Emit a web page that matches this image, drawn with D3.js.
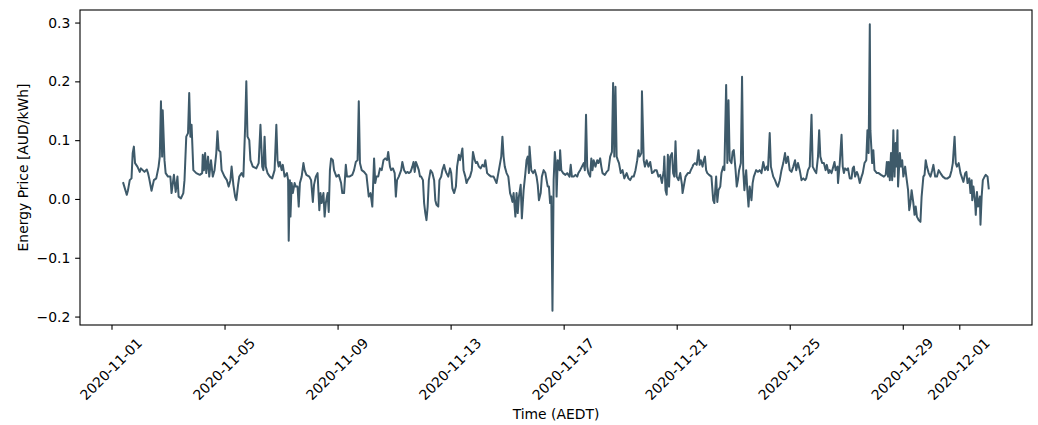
<!DOCTYPE html>
<html>
<head>
<meta charset="utf-8">
<script src="https://cdn.jsdelivr.net/npm/d3@7"></script>
<style>
  body { margin: 0; background: #fff; }
  svg { display: block; font-family: "DejaVu Sans", sans-serif; }
</style>
</head>
<body>
<svg id="chart" width="1038" height="425"></svg>
<script>
// Hours since 2020-11-01 00:00 AEDT, and price in AUD/kWh
const seriesStart = Date.UTC(2020, 10, 1, 0, 0);
const samples = [
[10,0.027],[13,0.007],[14,0.015],[15.5,0.032],[17,0.035],[18,0.078],[19,0.089],[20,0.061],[22,0.055],[24,0.046],[25,0.052],[28,0.046],[30,0.050],[31,0.044],[32,0.035],[34,0.014],[36,0.032],[38,0.035],[40,0.055],[41,0.072],[42,0.166],[43,0.072],[43.5,0.151],[45,0.066],[46,0.044],[48,0.038],[50,0.038],[51,0.010],[53,0.041],[54.5,0.012],[56,0.038],[57,0.004],[59,0.001],[61,0.010],[62,0.032],[63.5,0.106],[65,0.112],[66,0.180],[67,0.106],[68,0.126],[69.5,0.049],[72,0.044],[75,0.041],[77,0.044],[77.5,0.075],[78.5,0.049],[79.5,0.078],[80.5,0.044],[82,0.072],[83,0.038],[84.5,0.066],[86,0.038],[87.5,0.049],[89,0.078],[90,0.115],[91,0.083],[92.5,0.080],[93.5,0.049],[96,0.038],[98,0.032],[99.5,0.021],[101,0.032],[102,0.055],[103.5,0.024],[105,0.004],[106,-0.002],[107.5,0.024],[108.5,0.038],[110.5,0.044],[112,0.038],[113.5,0.123],[114.5,0.200],[115.5,0.106],[117,0.100],[118,0.066],[120,0.055],[123,0.052],[125,0.061],
[126.5,0.126],[128,0.055],[129,0.049],[130,0.106],[131,0.055],[132.5,0.044],[134.5,0.038],[136.5,0.035],[138.5,0.049],[140,0.126],[141,0.066],[142,0.055],[143,0.063],[144.5,0.049],[145.5,0.058],[147,0.038],[149,0.044],[150,0.032],[150.5,-0.071],[151.5,0.032],[152,-0.030],[153,0.027],[154,0.010],[155.5,0.027],[156.5,0.021],[158,0.021],[159,-0.013],[160,0.027],[161.5,0.038],[163,0.061],[164,0.049],[165.5,0.041],[168,0.038],[169.5,0.032],[171,-0.005],[172,0.024],[173.5,0.038],[175,0.044],[176.5,-0.019],[177.5,0.010],[178.5,-0.007],[180,0.010],[181,-0.030],[182,-0.007],[183.5,0.010],[184.5,-0.022],[185.5,0.049],[186.5,0.069],[188,0.066],[189,0.049],[191,0.038],[193,0.041],[195,0.027],[196,0.010],[197.5,0.010],[199,0.058],[200,0.038],[202,0.038],[204.5,0.041],[206,0.049],[207.5,0.063],[209,0.066],[210,0.166],[211,0.061],[212.5,0.049],[214.5,0.046],[216.5,0.041],[218.5,0.004],[220,0.010],[221.5,-0.013],[223,0.069],[224,0.027],[225,0.038],[226.5,0.038],[228,0.052],[229.5,0.049],[231,0.066],[232.5,0.069],[234,0.066],[235,0.080],[236.5,0.055],[237.5,0.049],[239,0.052],[240.5,0.044],[241.5,0.004],[242.5,0.032],[244,0.038],[246,0.049],[247,0.063],
[248.5,0.049],[250,0.044],[251.5,0.046],[252.5,0.044],[254,0.046],[255.5,0.055],[256.5,0.063],[257.5,0.046],[258.5,0.063],[260,0.055],[261,0.049],[262,0.038],[263,0.038],[264.5,0.032],[265.5,-0.007],[266.5,-0.024],[267.5,-0.036],[268.5,-0.013],[269.5,0.032],[271,0.049],[272.5,0.044],[274,0.032],[275,-0.002],[276,-0.010],[277.5,-0.013],[278.5,0.032],[280,0.038],[281,0.049],[282.5,0.058],[283.5,0.049],[284.5,0.044],[286,0.038],[287.5,0.052],[288.5,0.044],[289.5,0.018],[291,0.010],[292.5,0.021],[293.5,0.055],[295,0.075],[296,0.066],[297,0.075],[298,0.086],[299,0.049],[300.5,0.038],[301.5,0.027],[302.5,0.032],[304.5,0.038],[306,0.049],[307,0.080],[308.5,0.066],[309.5,0.061],[310.5,0.063],[312,0.055],[313.5,0.052],[315,0.058],[316.5,0.055],[317.5,0.066],[319,0.044],[320.5,0.041],[322.5,0.038],[324.5,0.038],[327,0.027],[328,0.038],[329.5,0.055],[331,0.072],[332,0.106],[333,0.072],[334,0.055],[335.5,0.044],[337,0.038],[338.5,0.010],[339.5,0.004],[340.5,-0.005],[341.5,0.010],[343,-0.030],[344,0.010],[345,-0.024],[346,0.004],[347.5,0.024],[348.5,-0.033],[350,0.015],[351.5,0.044],[352.5,0.066],[353.5,0.072],[354.5,0.044],[355,0.089],[356.5,0.049],[358,0.044],[359.5,0.049],[361,0.038],[362,0.024],[363,-0.002],[364.5,0.010],[365.5,0.038],[367,0.049],[368.5,0.044],[369.5,0.032],[370.5,0.021],
[371.5,0.021],[372.5,-0.007],[373.5,0.004],[374.5,-0.190],[375.5,0.032],[376.5,0.080],[377.5,0.055],[378,0.004],[379,0.066],[380.5,0.049],[381,0.083],[382,0.049],[383.5,0.044],[385.5,0.041],[387,0.044],[389,0.038],[390,0.058],[391,0.038],[392.5,0.038],[394,0.041],[395.5,0.038],[396.5,0.044],[398,0.049],[399.5,0.055],[401,0.061],[402,0.049],[403,0.143],[404,0.055],[405,0.044],[406.5,0.038],[407.5,0.069],[408.5,0.049],[409.5,0.066],[411,0.055],[412.5,0.066],[413.5,0.061],[415,0.069],[416,0.055],[417,0.044],[419,0.041],[420.5,0.046],[422,0.049],[423.5,0.072],[425,0.080],[426,0.197],[427,0.072],[428,0.191],[429,0.072],[430,0.066],[431,0.061],[432.5,0.044],[434,0.049],[435.5,0.035],[437.5,0.044],[439,0.035],[440.5,0.032],[442,0.038],[443.5,0.038],[445,0.049],[446.5,0.066],[447.5,0.083],[448.5,0.072],[450,0.078],[450.5,0.183],[452,0.066],[453,0.055],[454.5,0.066],[456,0.055],[457.5,0.063],[459,0.044],[460.5,0.046],[461.5,0.049],[463,0.049],[464.5,0.038],[466,0.041],[467.5,0.027],[469,0.049],[469.5,0.072],[470.5,0.015],[471.5,0.007],[472.5,0.075],[473.5,0.021],[474.5,0.072],[476,0.078],[477,0.044],[478,0.038],[479,0.098],[480,0.038],[481.5,0.032],[483,0.044],[484.5,0.024],[485,0.010],[486.5,0.027],[487.5,0.038],[489.5,0.044],[491,0.044],[492,0.049],[493.5,0.055],
[494,0.058],[495.5,0.061],[497,0.058],[498.5,0.083],[499.5,0.058],[500.5,0.066],[502,0.055],[503,0.066],[504,0.072],[505,0.049],[506,0.044],[507.5,0.041],[509.5,0.038],[511,-0.002],[512,-0.007],[513.5,0.038],[514.5,-0.005],[515.5,0.015],[517,0.021],[518,0.044],[519.5,0.055],[520.5,0.049],[522,0.194],[523,0.061],[524,0.168],[525,0.066],[526.5,0.061],[527.5,0.080],[528.5,0.083],[530,0.049],[531,0.021],[532,0.032],[533,0.049],[534.5,0.061],[535.5,0.208],[536.5,0.049],[537.5,0.015],[539,0.049],[540,0.015],[541,-0.013],[542,0.021],[543.5,-0.002],[544.5,0.027],[545.5,0.038],[547.5,0.049],[549,0.046],[550.5,0.049],[552,0.044],[553.5,0.063],[555,0.049],[556.5,0.055],[557.5,0.049],[559,0.112],[560,0.055],[562,0.038],[563.5,0.032],[565,0.024],[566,0.021],[567.5,0.032],[569,0.049],[570.5,0.061],[572,0.078],[573,0.061],[574.5,0.072],[576,0.049],[577.5,0.046],[579,0.055],[580.5,0.066],[581.5,0.049],[583,0.061],[584.5,0.049],[586,0.032],[587.5,0.035],[589,0.032],[590,0.035],[591.5,0.049],[593,0.055],[594.5,0.143],[595.5,0.055],[597,0.049],[598.5,0.044],[600,0.072],[601,0.117],[602,0.072],[603.5,0.061],[605,0.061],[606.5,0.049],[607.5,0.058],[609,0.044],[610,0.049],[611.5,0.044],[613,0.055],[614,0.063],[615,0.049],[616.5,0.055],
[617,0.027],[618.5,0.061],[620,0.109],[621,0.055],[622,0.044],[623,0.052],[624.5,0.049],[625.5,0.052],[627,0.035],[628.5,0.035],[629.5,0.052],[630.5,0.055],[631.5,0.038],[633,0.046],[634,0.041],[635.5,0.027],[637,0.038],[638,0.044],[639.5,0.061],[641,0.066],[642,0.117],[643,0.078],[644,0.297],[644.5,0.117],[646,0.061],[647,0.083],[648,0.049],[650,0.044],[651.5,0.044],[653.5,0.041],[656,0.038],[657.5,0.041],[658.5,0.063],[659.5,0.038],[660,0.063],[661,0.032],[662,0.078],[663,0.032],[664,0.117],[665,0.038],[666,0.095],[666.5,0.055],[667.5,0.117],[668,0.021],[669.5,0.078],[670.5,0.055],[671.5,0.066],[672.5,0.038],[674,0.055],[675,0.038],[676.5,0.015],[677.5,-0.019],[678.5,-0.007],[679.5,0.015],[681,-0.007],[682,-0.027],[683,-0.013],[684,-0.030],[685.5,-0.036],[687,-0.039],[688,0.004],[689.5,0.038],[690.5,0.041],[691.5,0.066],[692.5,0.055],[694,0.044],[695.5,0.038],[697,0.049],[698,0.058],[699.5,0.038],[701,0.038],[702.5,0.049],[704,0.044],[706,0.038],[708,0.035],[710,0.035],[712,0.038],[713.5,0.049],[714.5,0.061],[716,0.106],[717,0.061],[718,0.055],[719.5,0.061],[721,0.044],[722.5,0.035],[723.5,0.029],[725,0.044],[726,0.046],[727,0.027],[728.5,0.035],[729.5,0.010],[730.5,0.032],[731,-0.002],[732,0.021],[733.5,-0.007],[734,-0.027],[735,0.012],[736,-0.013],[737.5,0.004],[738,-0.044],[739,0.004],[740,0.032],[741.5,0.038],[742.5,0.041],[744,0.038],[745,0.018]
];
const xTickDates = ["2020-11-01","2020-11-05","2020-11-09","2020-11-13","2020-11-17","2020-11-21","2020-11-25","2020-11-29","2020-12-01"];
const yTickValues = [-0.2, -0.1, 0.0, 0.1, 0.2, 0.3];
const xAxisTitle = "Time (AEDT)";
const yAxisTitle = "Energy Price [AUD/kWh]";

const data = samples.map(([h, v]) => ({ t: new Date(seriesStart + h * 3600e3), v }));

const svg = d3.select("#chart");
const plotL = 80, plotR = 1032, plotT = 10, plotB = 325;
const fontPx = "13.9px";
const tick = 4.86;

function padded(ext) { const p = (ext[1] - ext[0]) * 0.05; return [ext[0] - p, ext[1] + p]; }
const tPad = padded(d3.extent(data, d => +d.t));
const x = d3.scaleUtc().domain([new Date(tPad[0]), new Date(tPad[1])]).range([plotL, plotR]);
const y = d3.scaleLinear().domain(padded(d3.extent(data, d => d.v))).range([plotB, plotT]);

// line
svg.append("path")
  .datum(data)
  .attr("fill", "none")
  .attr("stroke", "#3e5a6a")
  .attr("stroke-width", 2.0)
  .attr("stroke-linejoin", "round")
  .attr("stroke-linecap", "square")
  .attr("d", d3.line().x(d => x(d.t)).y(d => y(d.v)));

// frame
svg.append("rect")
  .attr("x", plotL).attr("y", plotT)
  .attr("width", plotR - plotL).attr("height", plotB - plotT)
  .attr("fill", "none").attr("stroke", "#000").attr("stroke-width", 1.1);

const parse = d3.utcParse("%Y-%m-%d");
const xAxis = d3.axisBottom(x)
  .tickValues(xTickDates.map(parse))
  .tickFormat(d3.utcFormat("%Y-%m-%d"))
  .tickSize(tick).tickPadding(tick).tickSizeOuter(0);
const gx = svg.append("g").attr("transform", `translate(0,${plotB})`).call(xAxis);
gx.select(".domain").remove();
gx.selectAll(".tick line").attr("stroke", "#000").attr("stroke-width", 1.1);
gx.selectAll(".tick text")
  .attr("y", null).attr("dy", null)
  .attr("text-anchor", "middle")
  .attr("dominant-baseline", "central")
  .attr("transform", "translate(-1,44) rotate(-45)")
  .attr("fill", "#000")
  .style("font-size", fontPx)
  .style("font-family", "DejaVu Sans");

const yAxis = d3.axisLeft(y)
  .tickValues(yTickValues)
  .tickFormat(d3.format(".1f"))
  .tickSize(tick).tickPadding(tick).tickSizeOuter(0);
const gy = svg.append("g").attr("transform", `translate(${plotL},0)`).call(yAxis);
gy.select(".domain").remove();
gy.selectAll(".tick line").attr("stroke", "#000").attr("stroke-width", 1.1);
gy.selectAll(".tick text")
  .attr("fill", "#000")
  .style("font-size", fontPx)
  .style("font-family", "DejaVu Sans");

svg.append("text")
  .attr("x", (plotL + plotR) / 2).attr("y", 418.5)
  .attr("text-anchor", "middle")
  .style("font-size", fontPx)
  .text(xAxisTitle);

svg.append("text")
  .attr("transform", `translate(23,${(plotT + plotB) / 2}) rotate(-90)`)
  .attr("text-anchor", "middle")
  .attr("dominant-baseline", "central")
  .style("font-size", fontPx)
  .text(yAxisTitle);
</script>
</body>
</html>
